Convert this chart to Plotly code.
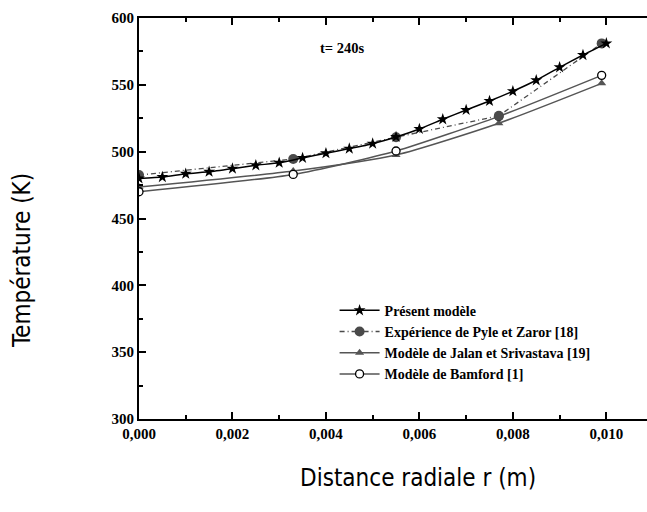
import plotly.graph_objects as go

# Radial temperature profiles at t = 240 s
r_model = [0.0, 0.0005, 0.001, 0.0015, 0.002, 0.0025, 0.003, 0.0035, 0.004, 0.0045,
           0.005, 0.0055, 0.006, 0.0065, 0.007, 0.0075, 0.008, 0.0085, 0.009, 0.0095, 0.010]
T_model = [480.0, 481.0, 483.5, 485.0, 487.3, 489.8, 491.7, 495.3, 498.8, 502.3,
           506.0, 511.0, 517.0, 524.2, 531.2, 537.9, 545.2, 553.4, 563.1, 572.3, 581.0]

r_ref = [0.0, 0.0033, 0.0055, 0.0077, 0.0099]
T_exp = [482.5, 494.5, 510.8, 526.8, 581.0]
T_jalan = [473.5, 485.5, 497.5, 521.3, 551.1]
T_bamford = [470.0, 483.0, 500.5, 526.4, 557.1]

names = ["Présent modèle", "Expérience de Pyle et Zaror [18]",
         "Modèle de Jalan et Srivastava [19]", "Modèle de Bamford [1]"]

x_ticks = [0.0, 0.002, 0.004, 0.006, 0.008, 0.010]
x_labels = ["0,000", "0,002", "0,004", "0,006", "0,008", "0,010"]
y_ticks = [300, 350, 400, 450, 500, 550, 600]
y_labels = ["300", "350", "400", "450", "500", "550", "600"]

GRAY = "#555555"
DARK = "#4a4a4a"
SERIF = "Liberation Serif, Times New Roman, serif"
serif_bold = dict(family=SERIF, size=14.5, color="black")

fig = go.Figure()

fig.add_trace(go.Scatter(
    x=r_ref, y=T_jalan, name=names[2], mode="lines+markers",
    line=dict(color=GRAY, width=1.5, shape="spline", smoothing=0.6),
    marker=dict(symbol="triangle-up", size=8, color=GRAY, line=dict(width=0)),
    legendrank=3))
fig.add_trace(go.Scatter(
    x=r_ref, y=T_bamford, name=names[3], mode="lines+markers",
    line=dict(color=GRAY, width=1.5, shape="spline", smoothing=0.6),
    marker=dict(symbol="circle", size=8, color="white", line=dict(color="black", width=1.3)),
    legendrank=4))
fig.add_trace(go.Scatter(
    x=r_ref, y=T_exp, name=names[1], mode="lines+markers",
    line=dict(color=DARK, width=1.3, dash="5px,3px,1px,3px"),
    marker=dict(symbol="circle", size=10, color=DARK, line=dict(width=0)),
    legendrank=2))
fig.add_trace(go.Scatter(
    x=r_model, y=T_model, name=names[0], mode="lines+markers",
    line=dict(color="black", width=1.5, shape="spline", smoothing=0.5),
    marker=dict(symbol="star", size=9, color="black", line=dict(width=0)),
    legendrank=1))

fig.add_annotation(x=0.00435, y=577.6, xref="x", yref="y", text="<b>t= 240s</b>",
                   showarrow=False, font=serif_bold)

title_font = dict(family="DejaVu Sans Condensed, Liberation Sans Narrow, sans-serif",
                  size=24, color="black")
fig.add_annotation(x=0.549, y=-0.188, xref="paper", yref="paper",
                   text="Distance radiale r (m)", showarrow=False, font=title_font)
fig.add_annotation(x=-0.263, y=0.395, xref="paper", yref="paper",
                   text="Température (K)", showarrow=False, textangle=-90, font=title_font)

tick_font = dict(family=SERIF, size=15, color="black", weight="bold")
fig.update_layout(
    width=647, height=512,
    margin=dict(l=139, r=0, t=18, b=93),
    paper_bgcolor="white", plot_bgcolor="white",
    showlegend=True,
    legend=dict(x=0.385, y=0.31, xanchor="left", yanchor="top", itemwidth=40,
                bgcolor="rgba(0,0,0,0)", borderwidth=0,
                font=dict(family=SERIF, size=14, color="black")),
    xaxis=dict(range=[0, 0.01087], showgrid=False, zeroline=False,
               showline=True, linecolor="black", linewidth=2, mirror="ticks",
               ticks="inside", ticklen=7, tickwidth=2, tickcolor="black",
               tickvals=x_ticks, ticktext=["<b>" + s + "</b>" for s in x_labels],
               tickfont=tick_font,
               minor=dict(dtick=0.001, ticks="inside", ticklen=4, tickwidth=2, tickcolor="black")),
    yaxis=dict(range=[300, 600], showgrid=False, zeroline=False,
               showline=True, linecolor="black", linewidth=2,
               ticks="inside", ticklen=7, tickwidth=2, tickcolor="black",
               tickvals=y_ticks, ticktext=["<b>" + s + "</b>" for s in y_labels],
               tickfont=tick_font,
               minor=dict(dtick=25, ticks="inside", ticklen=4, tickwidth=2, tickcolor="black")),
)

# bold legend labels
for tr in fig.data:
    tr.name = "<b>" + tr.name + "</b>"

fig.write_html("out.html")
